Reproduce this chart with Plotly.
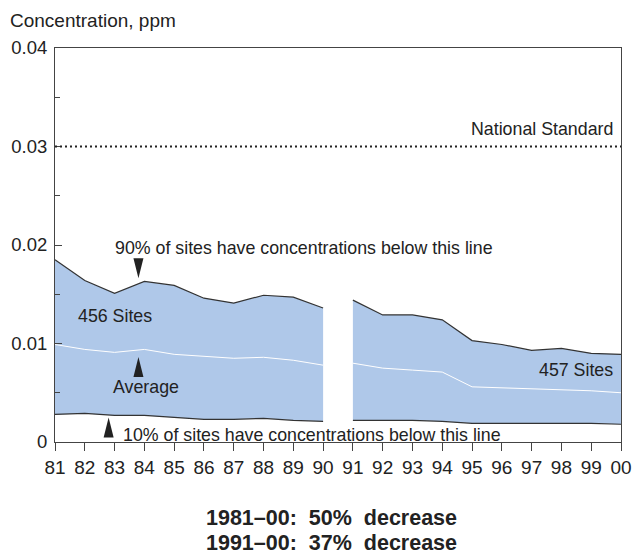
import plotly.graph_objects as go

years_a = [1981, 1982, 1983, 1984, 1985, 1986, 1987, 1988, 1989, 1990]
years_b = [1991, 1992, 1993, 1994, 1995, 1996, 1997, 1998, 1999, 2000]

p90_a = [0.0185, 0.0164, 0.0151, 0.0163, 0.0159, 0.0146, 0.0141, 0.0149, 0.0147, 0.0136]
avg_a = [0.0099, 0.0094, 0.0091, 0.0094, 0.0089, 0.0087, 0.0085, 0.0086, 0.0083, 0.0078]
p10_a = [0.0028, 0.0029, 0.0027, 0.0027, 0.0025, 0.0023, 0.0023, 0.0024, 0.0022, 0.0021]

p90_b = [0.0144, 0.0129, 0.0129, 0.0124, 0.0103, 0.0099, 0.0093, 0.0095, 0.0090, 0.0089]
avg_b = [0.0080, 0.0075, 0.0073, 0.0071, 0.0056, 0.0055, 0.0054, 0.0053, 0.0052, 0.0050]
p10_b = [0.0022, 0.0022, 0.0022, 0.0021, 0.0019, 0.0019, 0.0019, 0.0019, 0.0019, 0.0018]

national_standard = 0.030

x_tickvals = list(range(1981, 2001))
x_ticktext = ["81", "82", "83", "84", "85", "86", "87", "88", "89", "90",
              "91", "92", "93", "94", "95", "96", "97", "98", "99", "00"]
y_tickvals = [0, 0.01, 0.02, 0.03, 0.04]
y_ticktext = ["0", "0.01", "0.02", "0.03", "0.04"]

FILL = "rgb(175,200,233)"
DARK = "#333333"
FONT = "Liberation Sans, Arial, sans-serif"

fig = go.Figure()
for yrs, p10, p90, avg in [(years_a, p10_a, p90_a, avg_a), (years_b, p10_b, p90_b, avg_b)]:
    fig.add_trace(go.Scatter(x=yrs, y=p10, mode="lines", line=dict(color=DARK, width=1.2),
                             showlegend=False, hoverinfo="skip"))
    fig.add_trace(go.Scatter(x=yrs, y=p90, mode="lines", line=dict(color=DARK, width=1.2),
                             fill="tonexty", fillcolor=FILL, showlegend=False, hoverinfo="skip"))
    fig.add_trace(go.Scatter(x=yrs, y=avg, mode="lines", line=dict(color="white", width=1),
                             showlegend=False, hoverinfo="skip"))

# National standard dotted line
fig.add_shape(type="line", xref="paper", x0=0, x1=1, yref="y", y0=national_standard,
              y1=national_standard, line=dict(color="#222222", width=2, dash="2px,3px"))

# Triangle pointers
def tri(xa, ya, up):
    if up:
        path = "M -5 0 L 5 0 L 0 20 Z"
    else:
        path = "M -5 0 L 5 0 L 0 -20 Z"
    fig.add_shape(type="path", xref="x", yref="y", xsizemode="pixel", ysizemode="pixel",
                  xanchor=xa, yanchor=ya, path=path, fillcolor="#222222",
                  line=dict(width=0))

tri(1983.8, 0.01866, False)
tri(1983.8, 0.0066, True)
tri(1982.8, 0.00045, True)

tfont = dict(family=FONT, size=17.8, color="#222222")
ann = [
    dict(x=1982.95, y=0.01967, text="90% of sites have concentrations below this line", xanchor="left"),
    dict(x=1981.7, y=0.01278, text="456 Sites", xanchor="left"),
    dict(x=1984.05, y=0.00558, text="Average", xanchor="center"),
    dict(x=1983.2, y=0.0007, text="10% of sites have concentrations below this line", xanchor="left"),
    dict(x=1999.8, y=0.0073, text="457 Sites", xanchor="right"),
    dict(x=1999.8, y=0.03174, text="National Standard", xanchor="right"),
]
for a in ann:
    fig.add_annotation(xref="x", yref="y", showarrow=False, yanchor="middle", font=tfont, **a)

fig.add_annotation(xref="paper", yref="paper", x=-0.083, y=1.071, xanchor="left", yanchor="middle",
                   text="Concentration, ppm", showarrow=False, font=dict(family=FONT, size=19, color="#222222"))

bfont = dict(family="Liberation Sans Narrow, Liberation Sans, Arial", size=21.5, color="#222222")
fig.add_annotation(xref="paper", yref="paper", x=0.489, y=-0.193, xanchor="center", yanchor="middle",
                   text="<b>1981–00:\u00a0 50%\u00a0 decrease</b>", showarrow=False, font=bfont)
fig.add_annotation(xref="paper", yref="paper", x=0.489, y=-0.256, xanchor="center", yanchor="middle",
                   text="<b>1991–00:\u00a0 37%\u00a0 decrease</b>", showarrow=False, font=bfont)

fig.update_xaxes(range=[1981, 2000], tickvals=x_tickvals, ticktext=x_ticktext,
                 ticks="outside", ticklen=8, tickwidth=1, tickcolor="#444",
                 showline=True, linecolor="#444", linewidth=1, mirror=True,
                 showgrid=False, zeroline=False, automargin=False,
                 tickfont=dict(family=FONT, size=19, color="#222"))
fig.update_yaxes(range=[0, 0.04], tickvals=y_tickvals, ticktext=y_ticktext,
                 ticks="inside", ticklen=7, tickwidth=1, tickcolor="#444",
                 minor=dict(tickvals=[0.005, 0.015, 0.025, 0.035], ticks="inside", ticklen=5,
                            tickcolor="#444", tickwidth=1),
                 showline=True, linecolor="#444", linewidth=1, mirror=True,
                 showgrid=False, zeroline=False, ticklabelstandoff=3, automargin=False,
                 tickfont=dict(family=FONT, size=18.5, color="#222"))

fig.update_layout(width=632, height=554, margin=dict(l=55, r=11, t=48, b=112),
                  plot_bgcolor="white", paper_bgcolor="white", showlegend=False)

fig.write_html("out.html", config={"displayModeBar": False},
               post_script="document.body.style.margin='0px';document.body.style.overflow='hidden';")
